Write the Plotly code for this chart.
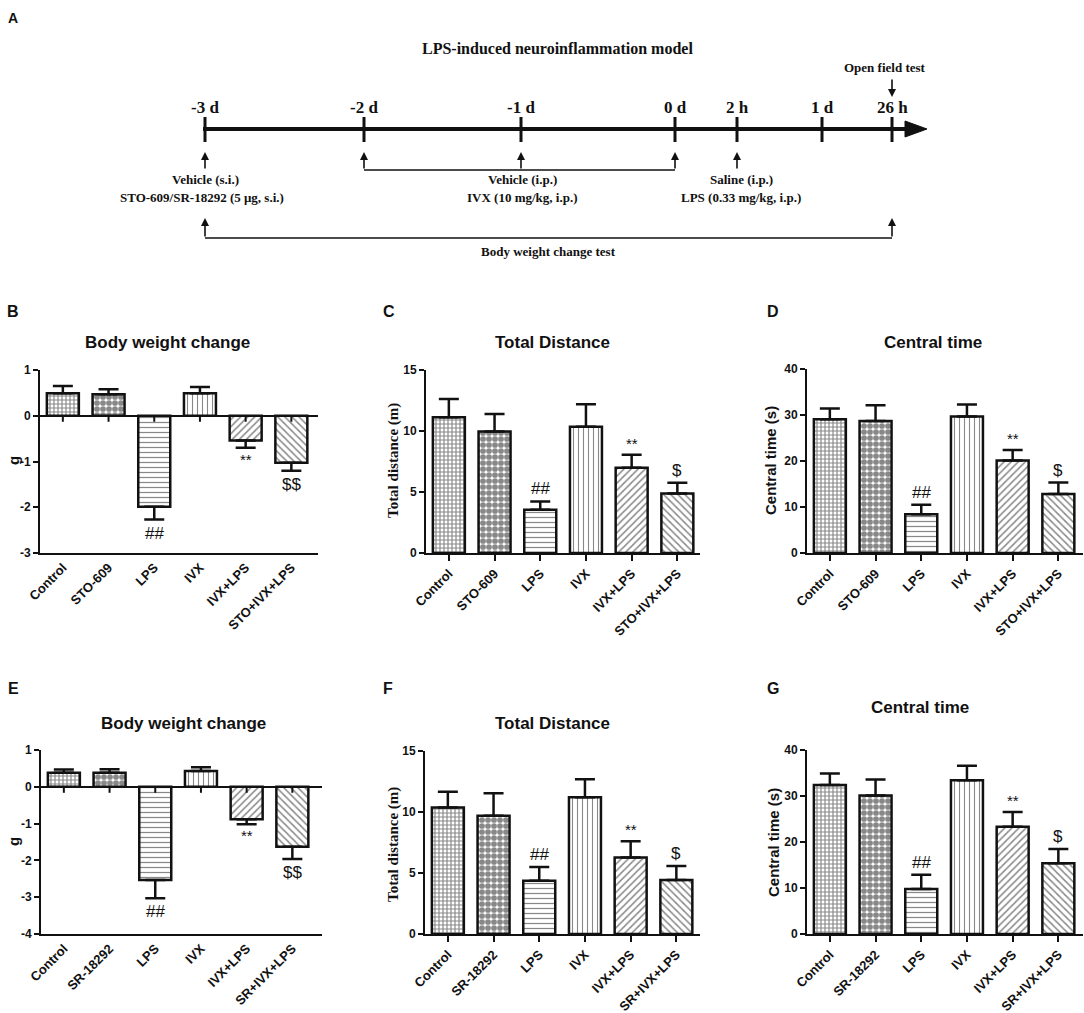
import plotly.graph_objects as go

W, H = 1084, 1013

# ---------------- data ----------------
groups_top = ["Control", "STO-609", "LPS", "IVX", "IVX+LPS", "STO+IVX+LPS"]
groups_bottom = ["Control", "SR-18292", "LPS", "IVX", "IVX+LPS", "SR+IVX+LPS"]

bw_B_mean = [0.49, 0.47, -1.99, 0.49, -0.54, -1.03]
bw_B_sem = [0.16, 0.11, 0.28, 0.14, 0.16, 0.17]
dist_C_mean = [11.13, 9.95, 3.55, 10.34, 6.98, 4.88]
dist_C_sem = [1.50, 1.45, 0.68, 1.85, 1.07, 0.87]
ct_D_mean = [29.1, 28.7, 8.4, 29.7, 20.1, 12.8]
ct_D_sem = [2.3, 3.4, 2.1, 2.6, 2.3, 2.5]
bw_E_mean = [0.38, 0.38, -2.53, 0.43, -0.88, -1.63]
bw_E_sem = [0.09, 0.10, 0.50, 0.10, 0.14, 0.33]
dist_F_mean = [10.36, 9.70, 4.37, 11.20, 6.28, 4.43]
dist_F_sem = [1.31, 1.83, 1.12, 1.48, 1.32, 1.14]
ct_G_mean = [32.4, 30.1, 9.8, 33.4, 23.3, 15.4]
ct_G_sem = [2.5, 3.5, 3.1, 3.2, 3.2, 3.1]

sig_marks = ["", "", "##", "", "**", "$"]
sig_marks_bw = ["", "", "##", "", "**", "$$"]

bw_B_ticks = [-3, -2, -1, 0, 1]
bw_E_ticks = [-4, -3, -2, -1, 0, 1]
dist_ticks = [0, 5, 10, 15]
ct_ticks = [0, 10, 20, 30, 40]

timeline_labels = ["-3 d", "-2 d", "-1 d", "0 d", "2 h", "1 d", "26 h"]

# ---------------- helpers ----------------
def fx(x):
    return x / W

def fy(y):
    return 1 - y / H

SANS = "Liberation Sans, Arial, sans-serif"
SERIF = "Liberation Serif, Times New Roman, serif"
INK = "#111111"

pattern_shapes = ["+", ".", "-", "|", "/", "\\"]
pattern_sizes = [4, 6, 5, 5, 5, 5]
pattern_solid = [0.5, 0.72, 0.25, 0.22, 0.3, 0.3]

panels = [
    dict(letter="B", title="Body weight change", ytitle="g", yfont=SANS,
         groups=groups_top, mean=bw_B_mean, sem=bw_B_sem, sig=sig_marks_bw,
         ticks=bw_B_ticks, x0=40, x1=318, yt=370, yb=553, zero=True,
         lx=13, ly=312, tx=167, ty=343, ytx=13, yty=461),
    dict(letter="C", title="Total Distance", ytitle="Total distance (m)", yfont=SERIF,
         groups=groups_top, mean=dist_C_mean, sem=dist_C_sem, sig=sig_marks,
         ticks=dist_ticks, x0=426, x1=700, yt=370, yb=553, zero=False,
         lx=389, ly=312, tx=552, ty=343, ytx=393, yty=461),
    dict(letter="D", title="Central time", ytitle="Central time (s)", yfont=SANS,
         groups=groups_top, mean=ct_D_mean, sem=ct_D_sem, sig=sig_marks,
         ticks=ct_ticks, x0=807, x1=1083, yt=369, yb=553, zero=False,
         lx=773, ly=312, tx=933, ty=343, ytx=770, yty=461),
    dict(letter="E", title="Body weight change", ytitle="g", yfont=SANS,
         groups=groups_bottom, mean=bw_E_mean, sem=bw_E_sem, sig=sig_marks_bw,
         ticks=bw_E_ticks, x0=41, x1=322, yt=750, yb=934, zero=True,
         lx=13, ly=688, tx=183, ty=723, ytx=13, yty=842),
    dict(letter="F", title="Total Distance", ytitle="Total distance (m)", yfont=SERIF,
         groups=groups_bottom, mean=dist_F_mean, sem=dist_F_sem, sig=sig_marks,
         ticks=dist_ticks, x0=425, x1=700, yt=751, yb=934, zero=False,
         lx=388, ly=688, tx=552, ty=723, ytx=393, yty=845),
    dict(letter="G", title="Central time", ytitle="Central time (s)", yfont=SANS,
         groups=groups_bottom, mean=ct_G_mean, sem=ct_G_sem, sig=sig_marks,
         ticks=ct_ticks, x0=807, x1=1083, yt=750, yb=934, zero=False,
         lx=773, ly=688, tx=920, ty=707, ytx=773, yty=842),
]

SPACING = 45.7

fig = go.Figure()
shapes = []
annotations = []
layout_axes = {}

def note(x, y, t, family, size, bold=True, **kw):
    d = dict(x=x, y=y, xref="paper", yref="paper", text=t, showarrow=False,
             xanchor="center", yanchor="middle",
             font=dict(family=family, size=size, color=INK,
                       weight="bold" if bold else "normal"))
    d.update(kw)
    annotations.append(d)

for k, p in enumerate(panels):
    n = k + 1
    xa = "x" if n == 1 else f"x{n}"
    ya = "y" if n == 1 else f"y{n}"
    xkey = "xaxis" if n == 1 else f"xaxis{n}"
    ykey = "yaxis" if n == 1 else f"yaxis{n}"
    idx = list(range(len(p["groups"])))
    up = [s if m >= 0 else 0 for m, s in zip(p["mean"], p["sem"])]
    down = [0 if m >= 0 else s for m, s in zip(p["mean"], p["sem"])]
    fig.add_trace(go.Bar(
        x=idx, y=p["mean"], xaxis=xa, yaxis=ya, width=0.7,
        marker=dict(color="white", line=dict(color=INK, width=2.5),
                    pattern=dict(shape=pattern_shapes, size=pattern_sizes,
                                 solidity=pattern_solid, fgcolor=INK,
                                 bgcolor="white", fillmode="overlay")),
        error_y=dict(type="data", symmetric=False, array=up, arrayminus=down,
                     color=INK, thickness=2.5, width=10),
        showlegend=False, hoverinfo="skip"))
    xr_end = -0.5 + (p["x1"] - p["x0"]) / SPACING
    tv = p["ticks"]
    layout_axes[xkey] = dict(
        domain=[fx(p["x0"]), fx(p["x1"])], anchor=ya, range=[-0.5, xr_end],
        tickmode="array", tickvals=idx, ticktext=p["groups"], tickangle=-45,
        tickfont=dict(family=SANS, size=13, color=INK, weight="bold"),
        showline=True, linecolor=INK, linewidth=2, automargin=False,
        ticks="" if p["zero"] else "outside", ticklen=6, tickwidth=2, tickcolor=INK,
        showgrid=False, zeroline=False, fixedrange=True)
    layout_axes[ykey] = dict(
        domain=[fy(p["yb"]), fy(p["yt"])], anchor=xa, range=[tv[0], tv[-1]],
        tickmode="array", tickvals=tv, ticktext=[str(v) for v in tv],
        tickfont=dict(family=SANS, size=12, color=INK, weight="bold"),
        showline=True, linecolor=INK, linewidth=2, ticks="outside", ticklen=5,
        tickwidth=2, tickcolor=INK, showgrid=False, automargin=False,
        zeroline=p["zero"], zerolinecolor=INK, zerolinewidth=2, fixedrange=True)
    if p["zero"]:
        for i in idx:
            shapes.append(dict(type="line", xref=xa, yref=ya, x0=i, x1=i,
                               ysizemode="pixel", yanchor=0, y0=0, y1=-6,
                               line=dict(color=INK, width=2)))
    for i, (m, s, t) in enumerate(zip(p["mean"], p["sem"], p["sig"])):
        if not t:
            continue
        fs = 15 if t == "**" else 17
        if m >= 0:
            annotations.append(dict(x=i, y=m + s, xref=xa, yref=ya, text=t,
                                    showarrow=False, xanchor="center",
                                    yanchor="bottom", yshift=1,
                                    font=dict(family=SANS, size=fs, color=INK)))
        else:
            annotations.append(dict(x=i, y=m - s, xref=xa, yref=ya, text=t,
                                    showarrow=False, xanchor="center", yanchor="top",
                                    yshift=-1 if t == "**" else -2,
                                    font=dict(family=SANS, size=fs, color=INK)))
    note(fx(p["lx"]), fy(p["ly"]), p["letter"], SANS, 16)
    note(fx(p["tx"]), fy(p["ty"]), p["title"], SANS, 17)
    note(fx(p["ytx"]), fy(p["yty"]), p["ytitle"], p["yfont"], 15, textangle=-90)

# ---------------- panel A : timeline schematic ----------------
note(fx(13), fy(18), "A", SANS, 14)
note(fx(557), fy(48), "LPS-induced neuroinflammation model", SERIF, 16)

tl_x = [205, 364, 521, 675, 737, 822, 892]
TL_Y = 129
shapes.append(dict(type="line", xref="paper", yref="paper", x0=fx(203), x1=fx(910),
                   y0=fy(TL_Y), y1=fy(TL_Y), line=dict(color=INK, width=4)))
shapes.append(dict(type="path", xref="paper", yref="paper",
                   path=f"M {fx(905)},{fy(121)} L {fx(927)},{fy(TL_Y)} L {fx(905)},{fy(137)} Z",
                   fillcolor=INK, line=dict(color=INK, width=1)))
for xv, lab in zip(tl_x, timeline_labels):
    shapes.append(dict(type="line", xref="paper", yref="paper", x0=fx(xv), x1=fx(xv),
                       y0=fy(117), y1=fy(142), line=dict(color=INK, width=3)))
    note(fx(xv), fy(108), lab, SERIF, 17)

def arrow(x, y_tip, length):
    annotations.append(dict(x=fx(x), y=fy(y_tip), xref="paper", yref="paper", text="",
                            showarrow=True, ax=0, ay=length, arrowhead=2, arrowsize=1,
                            arrowwidth=1.6, arrowcolor=INK, standoff=0))

def txt(x, y, t, size=13):
    note(fx(x), fy(y), t, SERIF, size)

txt(885, 68, "Open field test")
arrow(892, 97, -19)
arrow(205, 152, 18)
arrow(364, 152, 18)
arrow(521, 152, 18)
arrow(675, 152, 18)
arrow(737, 152, 18)
shapes.append(dict(type="line", xref="paper", yref="paper", x0=fx(364), x1=fx(675),
                   y0=fy(170), y1=fy(170), line=dict(color=INK, width=1.6)))
txt(205, 180, "Vehicle (s.i.)")
txt(202, 197, "STO-609/SR-18292 (5 μg, s.i.)")
txt(522, 180, "Vehicle (i.p.)")
txt(522, 197, "IVX (10 mg/kg, i.p.)")
txt(741, 180, "Saline (i.p.)")
txt(741, 197, "LPS (0.33 mg/kg, i.p.)")
arrow(205, 218, 20)
arrow(892, 218, 20)
shapes.append(dict(type="line", xref="paper", yref="paper", x0=fx(205), x1=fx(892),
                   y0=fy(238), y1=fy(238), line=dict(color=INK, width=1.6)))
txt(548, 252, "Body weight change test")

fig.update_layout(
    width=W, height=H, autosize=False,
    margin=dict(l=0, r=0, t=0, b=0, autoexpand=False),
    paper_bgcolor="white", plot_bgcolor="white",
    shapes=shapes, annotations=annotations, bargap=0.3,
    **layout_axes)

fig.write_html("out.html",
               config={"displayModeBar": False, "staticPlot": True},
               post_script="document.body.style.margin='0';"
                           "document.body.style.overflow='hidden';")
